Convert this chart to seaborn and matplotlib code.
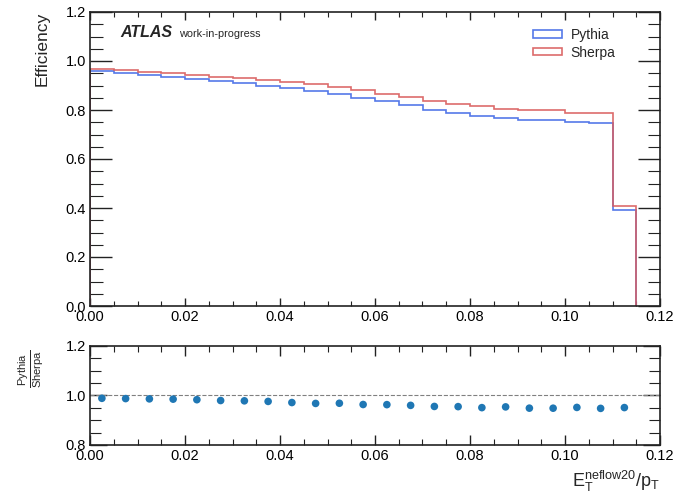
import numpy as np
import pandas as pd
import matplotlib
matplotlib.use("Agg")
import matplotlib.pyplot as plt
from matplotlib.ticker import MultipleLocator, FormatStrFormatter
from matplotlib.patches import Patch
import seaborn as sns

# Binning of E_T^{neflow20}/p_T
bin_edges = [round(0.005 * i, 3) for i in range(24)]

# Efficiency per bin
pythia_eff = [0.958, 0.950, 0.942, 0.936, 0.928, 0.917, 0.909, 0.899,
              0.888, 0.876, 0.867, 0.848, 0.835, 0.819, 0.800, 0.786,
              0.776, 0.767, 0.761, 0.758, 0.751, 0.747, 0.390]
sherpa_eff = [0.969, 0.962, 0.955, 0.950, 0.944, 0.936, 0.929, 0.921,
              0.914, 0.905, 0.895, 0.880, 0.867, 0.853, 0.837, 0.823,
              0.816, 0.804, 0.802, 0.799, 0.789, 0.788, 0.410]

series_names = ["Pythia", "Sherpa"]
series_colors = ["#436ae6", "#d95c5c"]

x_ticks = [0.00, 0.02, 0.04, 0.06, 0.08, 0.10, 0.12]

edges = np.array(bin_edges)
centers = 0.5 * (edges[:-1] + edges[1:])
ratio = np.array(pythia_eff) / np.array(sherpa_eff)

sns.set_style("ticks")
plt.rcParams["font.family"] = ["Liberation Sans", "DejaVu Sans"]
plt.rcParams["mathtext.fontset"] = "custom"
plt.rcParams["mathtext.rm"] = "Liberation Sans"
plt.rcParams["mathtext.it"] = "Liberation Sans:italic"
plt.rcParams["mathtext.default"] = "regular"

fig = plt.figure(figsize=(6.78, 5.0), dpi=100)
ax = fig.add_axes([90 / 678, 1 - 306 / 500, 570 / 678, 294 / 500])
axr = fig.add_axes([90 / 678, 1 - 445 / 500, 570 / 678, 99 / 500])

# Efficiency histograms
for name, vals, col in zip(series_names, [pythia_eff, sherpa_eff], series_colors):
    ax.hist(centers, bins=edges, weights=vals, histtype="step",
            color=col, lw=1.2, alpha=0.9, label=name)

ax.set_xlim(0, 0.12)
ax.set_ylim(0, 1.2)
ax.set_xticks(x_ticks)
ax.xaxis.set_major_formatter(FormatStrFormatter("%.2f"))
ax.yaxis.set_major_formatter(FormatStrFormatter("%.1f"))
ax.yaxis.set_major_locator(MultipleLocator(0.2))
ax.yaxis.set_minor_locator(MultipleLocator(0.05))
ax.xaxis.set_minor_locator(MultipleLocator(0.005))
ax.set_ylabel("")
ax.set_xlabel("")

# Ratio panel
ratio_df = pd.DataFrame({"x": centers, "ratio": ratio})
axr.axhline(1.0, color="grey", ls="--", lw=0.8, zorder=1)
sns.scatterplot(data=ratio_df, x="x", y="ratio", ax=axr, color="#1f77b4",
                s=30, edgecolor="none", zorder=3)
axr.set_xlim(0, 0.12)
axr.set_ylim(0.8, 1.2)
axr.set_xticks(x_ticks)
axr.xaxis.set_major_formatter(FormatStrFormatter("%.2f"))
axr.yaxis.set_major_formatter(FormatStrFormatter("%.1f"))
axr.yaxis.set_major_locator(MultipleLocator(0.2))
axr.yaxis.set_minor_locator(MultipleLocator(0.05))
axr.xaxis.set_minor_locator(MultipleLocator(0.005))
axr.set_xlabel("")
axr.set_ylabel("")

for a, (xmaj, xmin, ymaj, ymin) in [(ax, (5.5, 3.5, 16, 9)), (axr, (7, 4, 12, 8))]:
    a.tick_params(axis="both", which="both", direction="in", top=True, right=True,
                  labelsize=10.5, colors="#222222", labelcolor="black", pad=3)
    a.tick_params(axis="x", which="major", length=xmaj, width=1.0)
    a.tick_params(axis="x", which="minor", length=xmin, width=0.8)
    a.tick_params(axis="y", which="major", length=ymaj, width=1.0)
    a.tick_params(axis="y", which="minor", length=ymin, width=0.8)
    for sp in a.spines.values():
        sp.set_linewidth(1.2)
        sp.set_color("#222222")

# Labels
fig.text(42 / 678, 1 - 12 / 500, "Efficiency", rotation=90, ha="center",
         va="top", fontsize=12.5)
fig.text(31 / 678, 1 - 369 / 500, r"$\frac{Pythia}{Sherpa}$", rotation=90,
         ha="center", va="center", fontsize=11.5)
fig.text(660 / 678, 1 - 487 / 500, r"$E_T^{neflow20}/p_T$", ha="right",
         va="baseline", fontsize=13)

ax.text(0.0526, 0.916, "ATLAS", transform=ax.transAxes, fontsize=11.5,
        fontweight="bold", fontstyle="italic", va="baseline", ha="left")
ax.text(0.156, 0.916, "work-in-progress", transform=ax.transAxes, fontsize=7.8,
        va="baseline", ha="left")

handles = [Patch(facecolor="none", edgecolor=c, lw=1.2, alpha=0.9) for c in series_colors]
ax.legend(handles, series_names, loc="upper left", bbox_to_anchor=(0.777, 0.945),
          frameon=False, fontsize=10, borderpad=0, borderaxespad=0,
          handlelength=2.1, handleheight=0.45, handletextpad=0.6, labelspacing=0.25)

fig.savefig("out.png", dpi=100)
